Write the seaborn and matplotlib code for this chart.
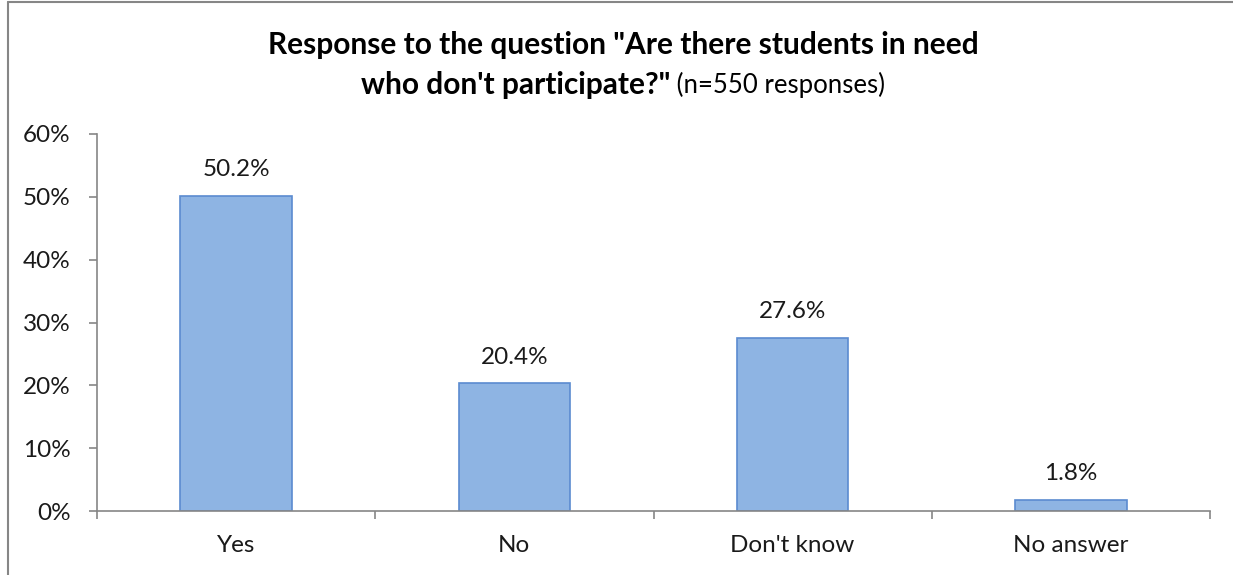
import matplotlib
matplotlib.use("Agg")
import matplotlib.pyplot as plt
import seaborn as sns
import pandas as pd
import numpy as np
from matplotlib.lines import Line2D

categories = ["Yes", "No", "Don't know", "No answer"]
values = [50.2, 20.4, 27.6, 1.8]
yticks = [0, 10, 20, 30, 40, 50, 60]
ytick_labels = ["0%", "10%", "20%", "30%", "40%", "50%", "60%"]

sns.set_theme(style="white")
plt.rcParams['font.family'] = ['Lato', 'DejaVu Sans']

W, H = 1233, 575
FS = 17.5
fig = plt.figure(figsize=(W / 100, H / 100), dpi=100)
ax = fig.add_axes([97 / W, 1 - 511 / H, (1210 - 97) / W, (511 - 134) / H])

df = pd.DataFrame({"cat": categories, "val": values})
sns.barplot(data=df, x="cat", y="val", ax=ax, color="#8EB4E3", width=0.40,
            edgecolor="#5B8BD0", linewidth=1.2, saturation=1)

ax.set_ylim(0, 60)
ax.set_xlim(-0.5, len(categories) - 0.5)
ax.set_yticks(yticks)
ax.set_yticklabels(ytick_labels, fontsize=FS, color="#1a1a1a")
ax.set_xlabel("")
ax.set_ylabel("")

# x ticks at category boundaries, labels at centers
ax.set_xticks(np.arange(-0.5, len(categories), 1.0))
ax.set_xticklabels([])
ax.set_xticks(np.arange(len(categories)), minor=True)
ax.set_xticklabels(categories, minor=True, fontsize=FS, color="#1a1a1a")
ax.tick_params(axis="x", which="major", direction="out", length=6, width=1.2,
               color="#868686", bottom=True)
ax.tick_params(axis="x", which="minor", length=0, pad=17, bottom=True)
ax.tick_params(axis="y", direction="out", length=6, width=1.2, color="#868686",
               pad=13, left=True)

for s in ["top", "right"]:
    ax.spines[s].set_visible(False)
for s in ["left", "bottom"]:
    ax.spines[s].set_color("#868686")
    ax.spines[s].set_linewidth(1.2)
ax.grid(False)

for cont in ax.containers:
    ax.bar_label(cont, labels=[f"{v:.1f}%" for v in values], padding=11,
                 fontsize=FS, color="#1a1a1a")

# Title
TS = 21.5
fig.text(623 / W, 1 - 45 / H, 'Response to the question "Are there students in need',
         ha="center", va="center", fontsize=TS, fontweight="bold", color="black")
fig.canvas.draw()
r = fig.canvas.get_renderer()
t1 = fig.text(0, 1 - 85 / H, "who don't participate?\"", ha="left", va="center",
              fontsize=TS, fontweight="bold", color="black")
t2 = fig.text(0, 1 - 85 / H, " (n=550 responses)", ha="left", va="center",
              fontsize=18.5, color="black")
w1 = t1.get_window_extent(r).width
w2 = t2.get_window_extent(r).width
start = 623 - (w1 + w2) / 2
t1.set_x(start / W)
t2.set_x((start + w1) / W)

# Chart border (left and top visible)
fig.add_artist(Line2D([8 / W, 8 / W], [0, 1 - 2 / H], transform=fig.transFigure,
                      color="#868686", linewidth=1.5))
fig.add_artist(Line2D([8 / W, 1], [1 - 2 / H, 1 - 2 / H], transform=fig.transFigure,
                      color="#868686", linewidth=1.5))

fig.savefig("out.png", dpi=100)
